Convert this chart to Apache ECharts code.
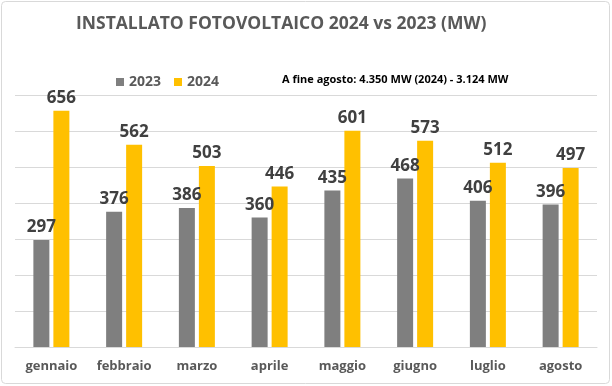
<!DOCTYPE html>
<html><head><meta charset="utf-8">
<script src="https://cdn.jsdelivr.net/npm/echarts@6/dist/echarts.min.js"></script>
<style>html,body{margin:0;padding:0;background:#fff}#c{width:612px;height:386px}</style>
</head><body><div id="c"></div>
<script>
const categories = ['gennaio','febbraio','marzo','aprile','maggio','giugno','luglio','agosto'];
const values2023 = [297,376,386,360,435,468,406,396];
const values2024 = [656,562,503,446,601,573,512,497];
const seriesNames = ['2023','2024'];
const titleText = 'INSTALLATO FOTOVOLTAICO 2024 vs 2023 (MW)';
const noteText = 'A fine agosto: 4.350 MW (2024) - 3.124 MW';

const FONT = 'Open Sans, Lato, sans-serif';
const chart = echarts.init(document.getElementById('c'), null, {renderer:'canvas'});
const labelStyle = {show:true, position:'top', distance:4, color:'#404040', fontWeight:'bold', fontSize:17, fontFamily:FONT};
chart.setOption({
  animation:false,
  backgroundColor:'#fff',
  graphic:[
    {type:'rect', shape:{x:1.5,y:1.5,width:608,height:382,r:4}, style:{fill:'none', stroke:'#d9d9d9', lineWidth:1}},
    {type:'text', left:282, top:74, style:{text:noteText, font:'bold 11px '+FONT, fill:'#000'}}
  ],
  title:{text:titleText, left:71, top:10, textStyle:{color:'#595959', fontSize:17.5, fontWeight:'bold', fontFamily:FONT}},
  legend:{data:seriesNames, left:111, top:70, itemWidth:8, itemHeight:8, itemGap:13, icon:'rect',
    textStyle:{color:'#595959', fontSize:14, fontWeight:'bold', fontFamily:FONT}},
  grid:{left:15, right:15, top:95, bottom:39},
  xAxis:{type:'category', data:categories, axisTick:{show:false},
    axisLine:{lineStyle:{color:'#d9d9d9'}},
    axisLabel:{color:'#595959', fontSize:13, fontWeight:'bold', fontFamily:FONT, margin:13}},
  yAxis:{type:'value', min:0, max:700, interval:100, axisLabel:{show:false}, axisLine:{show:false}, axisTick:{show:false},
    splitLine:{lineStyle:{color:'#d9d9d9'}}},
  series:[
    {name:seriesNames[0], type:'bar', data:values2023, barWidth:16, barGap:'25%', itemStyle:{color:'#7f7f7f'}, label:labelStyle},
    {name:seriesNames[1], type:'bar', data:values2024, barWidth:16, barGap:'25%', itemStyle:{color:'#ffc000'}, label:labelStyle}
  ]
});
</script></body></html>
